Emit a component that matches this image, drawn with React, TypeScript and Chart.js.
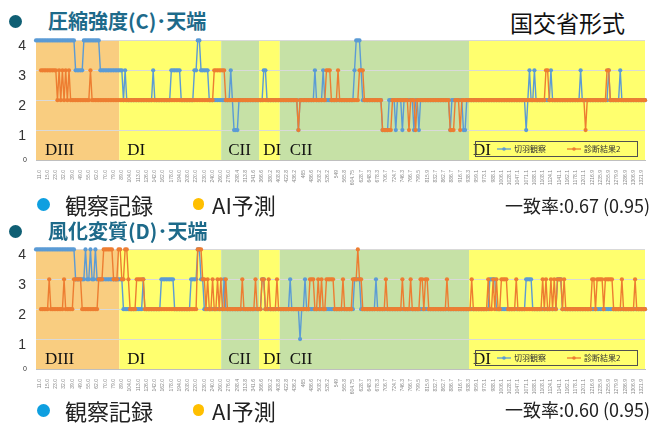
import React, { useEffect, useRef } from 'react';
import { Chart, registerables } from 'chart.js';

Chart.register(...registerables);

// ---- tick labels (distance) shown every 5th point ----
const distanceTicks = [
  '11.0','15.0','23.0','32.0','39.0','49.0','55.0','62.0','70.0','79.0',
  '89.0','104.0','113.0','126.0','142.0','162.0','178.0','194.0','208.0','220.0',
  '230.0','240.0','260.0','276.0','298.4','313.8','341.6','366.6','380.2','408.8',
  '422.8','436.2','465','486.6','508.2','526.2','549','565.8','604.75','628.7',
  '648.3','678.3','706.7','724.7','746.3','766.7','799.5','815.9','832.7','862.7',
  '886.7','916.7','938.3','959.1','973.1','988.1','1006.1','1028.1','1047.1','1071.1',
  '1088.1','1108.1','1124.1','1141.1','1162.1','1178.1','1201.1','1216.9','1235.9','1255.9',
  '1279.9','1286.9','1306.9','1321.9',
];
const pointCount = 370;
const tickEvery = 5;
const tickFirst = 2;

// ---- series values, one digit per point ('-' = no value) ----
const compressionObserved =
  '4444444444 4444444444 4444333334 4444444443 3333333333 3332322222 2222222222 2322222222 2233333322 2222223344 ' +
  '3333322222 2222222232 1112222222 2222222233 2222222222 2222222221 2222222223 2222322222 2222222222 2223444322 ' +
  '2222222222 1111222212 2212222221 2212222222 2222222222 2122222221 1222222222 2222222222 2222222222 2222222123 ' +
  '2232222222 2232222222 2222222222 3222222222 2222222322 2222322222 2222222222';
const compressionDiagnosed =
  '---3333333 3332323232 3222222222 2223222222 2222222222 2222222222 2222222222 2222222222 2222222222 2222222222 ' +
  '2222222233 3333322222 2222222222 2222222222 2222222222 2222222221 2222222222 2222223332 2223222222 2222223332 ' +
  '2222222222 1111112222 2222221222 1222222222 2222222222 2111222122 2222222222 2222222222 2222222222 2222222222 ' +
  '2222222223 3222222222 2222222222 2221222222 2222223322 2222222222 2222222222';
const weatheringObserved =
  '4444444444 4444444444 4444333333 4334334333 3333333333 3332222222 2222232222 2222223333 3333222222 2222333344 ' +
  '3322222222 2222322222 2222222222 2222222332 2222222222 2222322222 1223222222 2222222222 2222222222 2223333222 ' +
  '2222223222 2222222222 2222222222 2222222222 2222222222 2222222222 2222222222 2222233332 2222222222 2222222333 ' +
  '3222222222 2222223332 2222222222 2222222222 2222222222 2222222222 2222222222';
const weatheringDiagnosed =
  '---2222232 2222222322 2223333322 2222222233 3444444333 4433443222 2333332222 2222222222 2222222222 2222222244 ' +
  '4332322322 3232232222 2222232222 2223222332 2322223222 2222222222 2222223332 2323223333 3222223222 2233343322 ' +
  '2222222222 2232222222 2232222322 2223323322 2222222223 2222222222 2222322222 2222322323 2233332222 2322222222 ' +
  '2222222323 2232323332 3222222222 2222222332 3333233333 2222232222 2223222222';

// ---- ground class zones (in point-index units) ----
const zoneStart = [0, 50.5, 112.2, 135.2, 147.7, 262.4];
const zoneEnd = [50.5, 112.2, 135.2, 147.7, 262.4, 369];
const zoneName = ['DIII', 'DI', 'CII', 'DI', 'CII', 'DI'];
const zoneLabelInset = [9, 8, 7, 4, 10, 4];
const zoneFill: Record<string, string> = { DIII: '#f9cd80', DI: '#ffff6e', CII: '#c6e1a6' };

const seriesNames = ['切羽観察', '診断結果2'];
const seriesColors = ['#5b9bd5', '#ed7d31'];

function parseSeries(s: string): (number | null)[] {
  return s.replace(/\s/g, '').split('').map((c) => (c === '-' ? null : Number(c)));
}

const categoryLabels = Array.from({ length: pointCount }, (_, i) =>
  i >= tickFirst && (i - tickFirst) % tickEvery === 0 ? distanceTicks[(i - tickFirst) / tickEvery] ?? '' : ''
);

const panelPlugin = {
  id: 'panelDecor',
  beforeDraw(chart: any) {
    const { ctx, chartArea } = chart;
    const xs = chart.scales.x;
    ctx.save();
    for (let k = 0; k < zoneName.length; k++) {
      const x0 = xs.getPixelForValue(zoneStart[k]);
      const x1 = xs.getPixelForValue(zoneEnd[k]);
      ctx.fillStyle = zoneFill[zoneName[k]];
      ctx.fillRect(x0, chartArea.top, x1 - x0, chartArea.bottom - chartArea.top);
    }
    ctx.restore();
  },
  beforeDatasetsDraw(chart: any) {
    const { ctx, chartArea } = chart;
    const xs = chart.scales.x;
    ctx.save();
    ctx.fillStyle = '#111';
    ctx.font = '17px "Liberation Serif", serif';
    ctx.textBaseline = 'middle';
    ctx.textAlign = 'left';
    for (let k = 0; k < zoneName.length; k++) {
      const x0 = xs.getPixelForValue(zoneStart[k]);
      ctx.fillText(zoneName[k], x0 + zoneLabelInset[k], chartArea.bottom - 9);
    }
    ctx.restore();
  },
  afterDraw(chart: any) {
    const { ctx, chartArea } = chart;
    const ys = chart.scales.y;
    ctx.save();
    // y labels
    ctx.textAlign = 'right';
    ctx.textBaseline = 'middle';
    ctx.fillStyle = '#333';
    ys.ticks.forEach((t: any) => {
      const py = ys.getPixelForValue(t.value);
      if (t.value === 0) {
        ctx.font = '7px "Liberation Sans", sans-serif';
        ctx.fillText(String(t.value), chartArea.left - 9, py);
      } else {
        ctx.font = '14px "Liberation Sans", sans-serif';
        ctx.fillText(String(t.value), chartArea.left - 10, py + 6);
      }
    });
    // inner legend box
    const bx = chartArea.right - 170;
    const by = chartArea.bottom - 19;
    const bw = 162;
    const bh = 15;
    ctx.strokeStyle = '#505050';
    ctx.lineWidth = 1;
    ctx.strokeRect(Math.round(bx) + 0.5, Math.round(by) + 0.5, bw, bh);
    const cy = by + bh / 2 + 0.5;
    const items = chart.data.datasets.map((d: any) => ({ label: d.label, color: d.borderColor }));
    const offsets = [22, 92];
    items.forEach((it: any, k: number) => {
      const lx = bx + offsets[k];
      ctx.strokeStyle = it.color;
      ctx.lineWidth = 1.3;
      ctx.beginPath();
      ctx.moveTo(lx, cy);
      ctx.lineTo(lx + 14, cy);
      ctx.stroke();
      ctx.fillStyle = it.color;
      ctx.beginPath();
      ctx.arc(lx + 7, cy, 1.8, 0, Math.PI * 2);
      ctx.fill();
      ctx.fillStyle = '#333';
      ctx.font = '8px "Noto Sans CJK JP", sans-serif';
      ctx.textAlign = 'left';
      ctx.textBaseline = 'middle';
      ctx.fillText(it.label, lx + 17, cy);
    });
    ctx.restore();
  },
};

function SeriesPanel({ top, observed, diagnosed }: { top: number; observed: string; diagnosed: string }) {
  const ref = useRef<HTMLCanvasElement>(null);
  useEffect(() => {
    const obs = parseSeries(observed);
    const diag = parseSeries(diagnosed);
    const mk = (label: string, data: (number | null)[], color: string, order: number) => ({
      label,
      data,
      borderColor: color,
      backgroundColor: color,
      pointBackgroundColor: color,
      pointBorderColor: color,
      borderWidth: 1.4,
      pointRadius: 2.1,
      pointBorderWidth: 0,
      tension: 0,
      clip: false as any,
      order,
      spanGaps: false,
    });
    const chart = new Chart(ref.current as HTMLCanvasElement, {
      type: 'line',
      data: {
        labels: categoryLabels,
        datasets: [mk(seriesNames[0], obs, seriesColors[0], 1), mk(seriesNames[1], diag, seriesColors[1], 0)],
      },
      options: {
        animation: false,
        responsive: false,
        maintainAspectRatio: false,
        layout: { padding: { top: 10.4, right: 3, left: 0, bottom: 0 } },
        plugins: { legend: { display: false }, tooltip: { enabled: false } },
        scales: {
          x: {
            type: 'category',
            offset: false,
            grid: { display: false },
            border: { display: true, color: '#bfbfbf' },
            ticks: {
              autoSkip: false,
              maxRotation: 90,
              minRotation: 90,
              padding: 2,
              color: '#8a8a8a',
              font: { size: 5, family: '"Liberation Sans", sans-serif' },
            },
            afterFit: (s: any) => {
              s.height = 30;
            },
          },
          y: {
            min: 0,
            max: 4,
            ticks: { stepSize: 1, display: false },
            grid: { color: '#d9d9d9', drawTicks: false },
            border: { display: false },
            afterFit: (s: any) => {
              s.width = 36;
            },
          },
        },
      } as any,
      plugins: [panelPlugin],
    });
    return () => chart.destroy();
  }, [observed, diagnosed]);
  return (
    <canvas
      ref={ref}
      width={653}
      height={160}
      style={{ position: 'absolute', left: 0, top, width: 653, height: 160 }}
    />
  );
}

const jp = '"Noto Sans CJK JP", "Noto Sans", sans-serif';

function Dot({ cx, cy, d, color }: { cx: number; cy: number; d: number; color: string }) {
  return (
    <div
      style={{
        position: 'absolute',
        left: cx - d / 2,
        top: cy - d / 2,
        width: d,
        height: d,
        borderRadius: '50%',
        background: color,
      }}
    />
  );
}

function Txt({ x, cy, size, children, color = '#222', weight = 400, spacing = 0 }: any) {
  return (
    <div
      style={{
        position: 'absolute',
        left: x,
        top: cy - size / 2,
        fontSize: size,
        lineHeight: `${size}px`,
        height: size,
        fontFamily: jp,
        color,
        fontWeight: weight,
        letterSpacing: spacing,
        whiteSpace: 'nowrap',
      }}
    >
      {children}
    </div>
  );
}

export default function App() {
  return (
    <div
      style={{
        position: 'absolute',
        left: 0,
        top: 0,
        width: 653,
        height: 425,
        background: '#fff',
        overflow: 'hidden',
      }}
    >
      <Dot cx={15} cy={21} d={13} color="#0f5f74" />
      <Txt x={48} cy={21} size={20} color="#1d6a8a" weight={700}>圧縮強度(C)･天端</Txt>
      <Txt x={510} cy={22} size={23} color="#111">国交省形式</Txt>
      <SeriesPanel top={30} observed={compressionObserved} diagnosed={compressionDiagnosed} />
      <Dot cx={43.5} cy={204} d={13} color="#0e9fe0" />
      <Txt x={65} cy={204} size={22}>観察記録</Txt>
      <Dot cx={198.5} cy={204} d={11.5} color="#ffbf00" />
      <Txt x={212} cy={204} size={22}>AI予測</Txt>
      <Txt x={505} cy={205} size={18}>一致率:0.67 (0.95)</Txt>

      <Dot cx={15} cy={231} d={13} color="#0f5f74" />
      <Txt x={48} cy={231} size={20} color="#1d6a8a" weight={700}>風化変質(D)･天端</Txt>
      <SeriesPanel top={239} observed={weatheringObserved} diagnosed={weatheringDiagnosed} />
      <Dot cx={43.5} cy={410} d={13} color="#0e9fe0" />
      <Txt x={65} cy={410} size={22}>観察記録</Txt>
      <Dot cx={198.5} cy={410} d={11.5} color="#ffbf00" />
      <Txt x={212} cy={410} size={22}>AI予測</Txt>
      <Txt x={505} cy={409} size={18}>一致率:0.60 (0.95)</Txt>
    </div>
  );
}
